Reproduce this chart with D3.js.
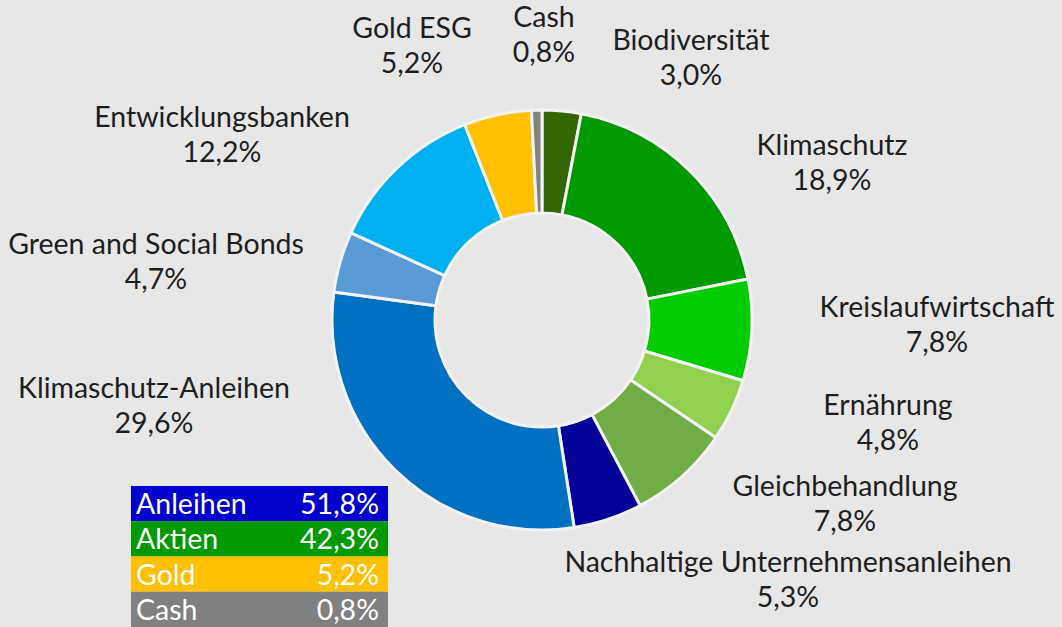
<!DOCTYPE html>
<html>
<head>
<meta charset="utf-8">
<script src="https://cdn.jsdelivr.net/npm/d3@7"></script>
<style>
html, body { margin: 0; padding: 0; background: #e7e7e7; }
svg { display: block; font-family: Lato, "Open Sans", sans-serif; }
</style>
</head>
<body>
<svg id="chart" width="1062" height="627"></svg>
<script>
// slices, clockwise from 12 o'clock
var sectors = [
	"Biodiversität",
	"Klimaschutz",
	"Kreislaufwirtschaft",
	"Ernährung",
	"Gleichbehandlung",
	"Nachhaltige Unternehmensanleihen",
	"Klimaschutz-Anleihen",
	"Green and Social Bonds",
	"Entwicklungsbanken",
	"Gold ESG",
	"Cash"
];
var shares = [3.0, 18.9, 7.8, 4.8, 7.8, 5.3, 29.6, 4.7, 12.2, 5.2, 0.8];
var sectorColors = [
	"#336600", "#009900", "#00cc00", "#92d050", "#70ad47",
	"#000099", "#0070c0", "#5b9bd5", "#00b0f0", "#ffc000", "#808080"
];

// asset class summary table
var groups = ["Anleihen", "Aktien", "Gold", "Cash"];
var groupShares = [51.8, 42.3, 5.2, 0.8];
var groupColors = ["#0000cc", "#009900", "#ffc000", "#808080"];

// label anchors (center x, first baseline), same order as sectors
var labelAnchors = [
	[691, 50], [832, 155], [937, 317], [888, 415], [845, 496], [788, 572],
	[154, 398], [156, 254], [222, 127], [412, 38], [544, 27]
];

var de = d3.formatLocale({decimal: ",", thousands: ".", grouping: [3], currency: ["", " €"]});
var pct = function(v) { return de.format(".1f")(v) + "%"; };

var svg = d3.select("#chart");
var cx = 542, cy = 320;
var outerR = 210, innerR = 107;
var fontSize = "28.5px";

var pie = d3.pie().sort(null).value(function(d) { return d; });
var arc = d3.arc().innerRadius(innerR).outerRadius(outerR);

var g = svg.append("g").attr("transform", "translate(" + cx + "," + cy + ")");
g.selectAll("path")
	.data(pie(shares))
	.enter().append("path")
		.attr("d", arc)
		.attr("fill", function(d, i) { return sectorColors[i]; })
		.attr("stroke", "#f3f3f3")
		.attr("stroke-width", 3)
		.attr("stroke-linejoin", "round");

var labels = svg.selectAll("text.label")
	.data(sectors)
	.enter().append("text")
		.attr("class", "label")
		.attr("text-anchor", "middle")
		.attr("fill", "#1e1e1e")
		.style("font-size", fontSize);
labels.append("tspan")
	.attr("x", function(d, i) { return labelAnchors[i][0]; })
	.attr("y", function(d, i) { return labelAnchors[i][1]; })
	.text(function(d) { return d; });
labels.append("tspan")
	.attr("x", function(d, i) { return labelAnchors[i][0]; })
	.attr("y", function(d, i) { return labelAnchors[i][1] + 34.5; })
	.text(function(d, i) { return pct(shares[i]); });

// summary table
var rowY = d3.scaleBand().domain(groups).range([486, 627]);
var tableX = d3.scaleLinear().domain([0, 1]).range([131, 388]);
var rows = svg.selectAll("g.row")
	.data(groups)
	.enter().append("g")
		.attr("class", "row")
		.attr("transform", function(d) { return "translate(0," + rowY(d) + ")"; });
rows.append("rect")
	.attr("x", tableX(0))
	.attr("width", tableX(1) - tableX(0))
	.attr("height", rowY.bandwidth())
	.attr("fill", function(d, i) { return groupColors[i]; });
rows.append("text")
	.attr("x", tableX(0) + 5)
	.attr("y", 28)
	.attr("fill", "#fff")
	.style("font-size", fontSize)
	.text(function(d) { return d; });
rows.append("text")
	.attr("x", tableX(1) - 9)
	.attr("y", 28)
	.attr("text-anchor", "end")
	.attr("fill", "#fff")
	.style("font-size", fontSize)
	.text(function(d, i) { return pct(groupShares[i]); });
</script>
</body>
</html>
